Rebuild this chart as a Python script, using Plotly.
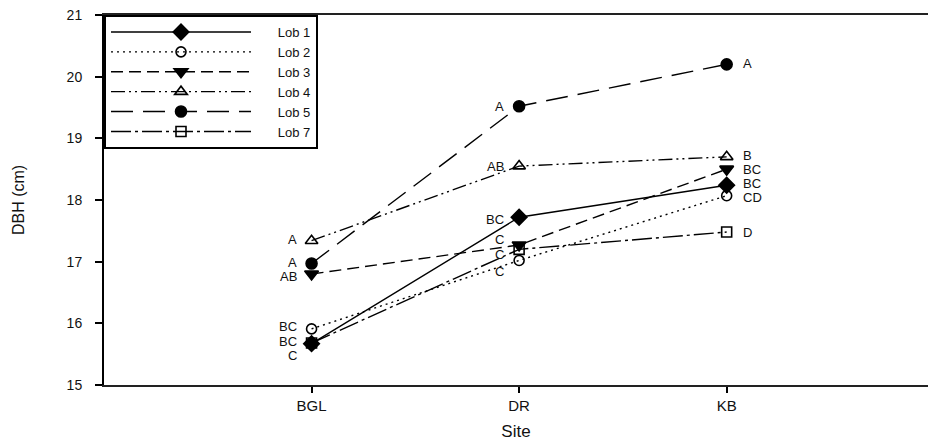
import plotly.graph_objects as go

# Sites along the x axis
sites = ["BGL", "DR", "KB"]

# Mean DBH (cm) per lob at each site
lob1 = [15.67, 17.72, 18.24]
lob2 = [15.91, 17.02, 18.07]
lob3 = [16.80, 17.27, 18.50]
lob4 = [17.34, 18.55, 18.70]
lob5 = [16.97, 19.52, 20.20]
lob7 = [15.68, 17.20, 17.48]

# Significance letters per lob at each site
let1 = ["C", "BC", "BC"]
let2 = ["BC", "C", "CD"]
let3 = ["AB", "C", "BC"]
let4 = ["A", "AB", "B"]
let5 = ["A", "A", "A"]
let7 = ["BC", "C", "D"]

y_ticks = [15, 16, 17, 18, 19, 20, 21]

FONT = "Liberation Sans, Arial, sans-serif"
INK = "#111111"
PAD = "&nbsp;" * 6  # gap between legend sample and its label

series = [
    # name, values, letters, symbol, dash, marker size, letter y-nudges (px)
    ("Lob 1", lob1, let1, "diamond", "solid", 12, [-12, -2, 2]),
    ("Lob 2", lob2, let2, "circle-open", "2px,4px", 10, [2, -11, -2]),
    ("Lob 3", lob3, let3, "triangle-down", "12px,6px", 12, [-2, 6, 0]),
    ("Lob 4", lob4, let4, "triangle-up-open", "14px,4px,2px,4px,2px,4px", 11, [1, 0, 1]),
    ("Lob 5", lob5, let5, "circle", "22px,10px", 11, [1, 0, 1]),
    ("Lob 7", lob7, let7, "square-open", "20px,4px,3px,4px", 10, [2, -5, 0]),
]

xpos = {s: i + 1 for i, s in enumerate(sites)}

fig = go.Figure()
annotations = []
for name, vals, letters, sym, dash, msize, nudges in series:
    xs = [xpos[s] for s in sites]
    fig.add_trace(go.Scatter(
        x=xs, y=vals, name=PAD + name, mode="lines+markers",
        line=dict(color="black", width=1.4, dash=dash),
        marker=dict(symbol=sym, size=msize, color="black",
                    line=dict(color="black", width=1.6)),
    ))
    for i, (xv, yv, lab) in enumerate(zip(xs, vals, letters)):
        right = (i == len(sites) - 1)
        annotations.append(dict(
            x=xv, y=yv, text=lab, showarrow=False, borderpad=0,
            xanchor="left" if right else "right", yanchor="middle",
            xshift=15 if right else -14, yshift=nudges[i],
            font=dict(family=FONT, size=13, color=INK),
        ))

fig.update_layout(
    width=928, height=447,
    margin=dict(l=104, r=0, t=15, b=62),
    paper_bgcolor="white", plot_bgcolor="white",
    font=dict(family=FONT, color=INK),
    showlegend=True,
    legend=dict(
        x=0, y=1, xanchor="left", yanchor="top",
        bgcolor="white", bordercolor="black", borderwidth=2,
        font=dict(family=FONT, size=13, color=INK),
        itemwidth=140, tracegroupgap=0,
    ),
    annotations=annotations,
)

fig.update_xaxes(
    range=[0, 3.97],
    tickmode="array", tickvals=[xpos[s] for s in sites], ticktext=sites,
    ticks="outside", ticklen=6, tickwidth=1.5, tickcolor="black",
    showline=True, linecolor="#222222", linewidth=2, mirror=True,
    showgrid=False, zeroline=False,
    tickfont=dict(family=FONT, size=15, color=INK),
    title=dict(text="Site", font=dict(family=FONT, size=17, color=INK), standoff=12),
)
fig.update_yaxes(
    range=[15, 21],
    tickmode="array", tickvals=y_ticks,
    ticks="outside", ticklen=7, tickwidth=1.5, tickcolor="black",
    showline=True, linecolor="black", linewidth=2, mirror=False,
    showgrid=False, zeroline=False,
    tickfont=dict(family=FONT, size=14, color=INK),
    ticklabelstandoff=10,
    title=dict(text="DBH (cm)", font=dict(family=FONT, size=16, color=INK), standoff=38),
)

fig.write_html("out.html")
